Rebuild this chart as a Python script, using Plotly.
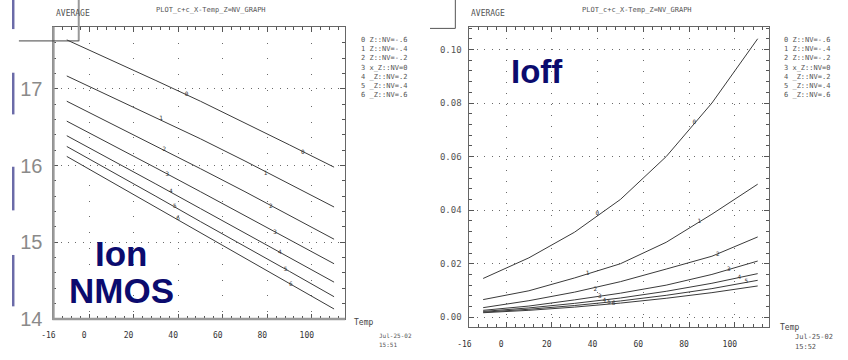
import plotly.graph_objects as go

W, H = 848, 360

# ---------------- data ----------------
temps = [-10, 10, 30, 50, 70, 90, 110]

ion_0 = [17.64, 17.38, 17.11, 16.84, 16.56, 16.27, 15.98]
ion_1 = [17.17, 16.90, 16.63, 16.35, 16.06, 15.76, 15.46]
ion_2 = [16.84, 16.55, 16.26, 15.96, 15.66, 15.35, 15.04]
ion_3 = [16.58, 16.28, 15.97, 15.66, 15.35, 15.04, 14.72]
ion_4 = [16.39, 16.08, 15.76, 15.44, 15.12, 14.80, 14.48]
ion_5 = [16.25, 15.93, 15.60, 15.27, 14.95, 14.62, 14.29]
ion_6 = [16.12, 15.79, 15.46, 15.13, 14.80, 14.46, 14.13]
ion_series = [ion_0, ion_1, ion_2, ion_3, ion_4, ion_5, ion_6]

ion_mk_x = [[43.8, 96.0], [32.3, 79.2], [33.8, 81.6], [35.1, 83.5],
            [36.7, 85.7], [38.5, 88.2], [40.0, 90.6]]
ion_mk_y = [[16.93, 16.17], [16.61, 15.90], [16.21, 15.47], [15.89, 15.13],
            [15.66, 14.87], [15.47, 14.65], [15.31, 14.45]]

ioff_0 = [0.0145, 0.0222, 0.0318, 0.0440, 0.0600, 0.0800, 0.1040]
ioff_1 = [0.0066, 0.0099, 0.0147, 0.0200, 0.0280, 0.0385, 0.0497]
ioff_2 = [0.0036, 0.0062, 0.0094, 0.0133, 0.0180, 0.0228, 0.0300]
ioff_3 = [0.0026, 0.0042, 0.0065, 0.0090, 0.0120, 0.0160, 0.0210]
ioff_4 = [0.0022, 0.0035, 0.0052, 0.0072, 0.0097, 0.0127, 0.0163]
ioff_5 = [0.0019, 0.0030, 0.0044, 0.0061, 0.0082, 0.0107, 0.0138]
ioff_6 = [0.0017, 0.0026, 0.0038, 0.0053, 0.0071, 0.0092, 0.0117]
ioff_series = [ioff_0, ioff_1, ioff_2, ioff_3, ioff_4, ioff_5, ioff_6]

ioff_mk_x = [[39.9, 82.3], [35.6, 84.5], [39.0, 92.6], [41.0, 97.4],
             [43.0, 102.0], [45.0, 105.0], [47.0]]
ioff_mk_y = [[0.0389, 0.0729], [0.0162, 0.0356], [0.0105, 0.0234], [0.0078, 0.0180],
             [0.0063, 0.0150], [0.0057, 0.0133], [0.0051]]

legend_labels = ["0 Z::NV=-.6", "1 Z::NV=-.4", "2 Z::NV=-.2", "3 x_Z::NV=0",
                 "4 _Z::NV=.2", "5 _Z::NV=.4", "6 _Z::NV=.6"]

x_tickvals = [-16, 0, 20, 40, 60, 80, 100]
x_ticktext = ["-16", "0", "20", "40", "60", "80", "100"]
ion_tickvals = [14, 15, 16, 17]
ion_ticktext = ["14", "15", "16", "17"]
ioff_tickvals = [0.0, 0.02, 0.04, 0.06, 0.08, 0.10]
ioff_ticktext = ["0.00", "0.02", "0.04", "0.06", "0.08", "0.10"]

plot_title = "PLOT_c+c_X-Temp_Z=NV_GRAPH"
y_title = "AVERAGE"
x_title = "Temp"
date_text = "Jul-25-02"
time_left = "15:51"
time_right = "15:52"

# ---------------- helpers ----------------
def px(x):
    return x / W

def py(y):
    return 1 - y / H

MONO = "DejaVu Sans Mono"
LINE_C = "#3a3a3a"

fig = go.Figure()

for i, ys in enumerate(ion_series):
    fig.add_trace(go.Scatter(x=temps, y=ys, mode="lines",
                             line=dict(color=LINE_C, width=1),
                             xaxis="x", yaxis="y", showlegend=False, hoverinfo="skip"))
    fig.add_trace(go.Scatter(x=ion_mk_x[i], y=ion_mk_y[i], mode="text",
                             text=[str(i)] * len(ion_mk_x[i]),
                             textfont=dict(family=MONO, size=6, color="#333333"),
                             xaxis="x", yaxis="y", showlegend=False, hoverinfo="skip"))

for i, ys in enumerate(ioff_series):
    fig.add_trace(go.Scatter(x=temps, y=ys, mode="lines",
                             line=dict(color=LINE_C, width=1),
                             xaxis="x2", yaxis="y2", showlegend=False, hoverinfo="skip"))
    fig.add_trace(go.Scatter(x=ioff_mk_x[i], y=ioff_mk_y[i], mode="text",
                             text=[str(i)] * len(ioff_mk_x[i]),
                             textfont=dict(family=MONO, size=6, color="#333333"),
                             xaxis="x2", yaxis="y2", showlegend=False, hoverinfo="skip"))


def xaxis_cfg(domain, anchor, vdash, standoff):
    return dict(domain=domain, anchor=anchor, range=[-16, 115],
                tickmode="array", tickvals=x_tickvals, ticktext=x_ticktext,
                ticks="inside", ticklen=5, tickcolor="#555", tickwidth=1,
                showline=True, linecolor="#666666", linewidth=1, mirror="allticks",
                minor=dict(tickmode="linear", tick0=0, dtick=4, ticks="inside",
                           ticklen=3, tickcolor="#555", showgrid=False),
                showgrid=True, gridcolor="#6a6a6a", gridwidth=1, griddash=vdash,
                zeroline=False, ticklabelshift=-5, ticklabelstandoff=standoff,
                tickfont=dict(family=MONO, size=8, color="#333"))


fig.update_layout(
    width=W, height=H, autosize=False,
    margin=dict(l=0, r=0, t=0, b=0),
    paper_bgcolor="white", plot_bgcolor="white",
    showlegend=False,
    xaxis=xaxis_cfg([px(42), px(338)], "y", "1px,14.8px", 8),
    yaxis=dict(domain=[py(329), py(27.7)], anchor="x", range=[14, 17.81],
               tickmode="array", tickvals=ion_tickvals, ticktext=ion_ticktext,
               ticks="inside", ticklen=5, tickcolor="#555",
               showline=True, linecolor="#666666", linewidth=1, mirror="allticks",
               minor=dict(tickmode="linear", tick0=14, dtick=0.2, ticks="inside",
                          ticklen=3, tickcolor="#555", showgrid=False),
               showgrid=True, gridcolor="#6a6a6a", gridwidth=1, griddash="1px,6.3px",
               zeroline=False, ticklabelstandoff=6,
               tickfont=dict(family="Liberation Sans", size=20, color="#8a8a8a")),
    xaxis2=xaxis_cfg([px(464), px(768)], "y2", "1px,10.04px", 9),
    yaxis2=dict(domain=[py(337.7), py(27.7)], anchor="x2", range=[-0.00377, 0.10844],
                tickmode="array", tickvals=ioff_tickvals, ticktext=ioff_ticktext,
                ticks="inside", ticklen=5, tickcolor="#555",
                showline=True, linecolor="#666666", linewidth=1, mirror="allticks",
                minor=dict(tickmode="linear", tick0=0, dtick=0.004, ticks="inside",
                           ticklen=3, tickcolor="#555", showgrid=False),
                showgrid=True, gridcolor="#6a6a6a", gridwidth=1, griddash="1px,6.5px",
                zeroline=False, ticklabelstandoff=5,
                tickfont=dict(family=MONO, size=9, color="#555")),
)

ann = []

def add_text(x, y, text, size, color="#555", family=MONO, xanchor="left", yanchor="middle"):
    ann.append(dict(x=px(x), y=py(y), xref="paper", yref="paper", text=text,
                    showarrow=False, xanchor=xanchor, yanchor=yanchor,
                    font=dict(family=family, size=size, color=color)))

# titles
add_text(43, 14, y_title, 8, "#555")
add_text(202, 10, plot_title, 7, "#555", xanchor="center")
add_text(464, 14, y_title, 8, "#555")
add_text(634, 10, plot_title, 7, "#555", xanchor="center")

# legends
for k, lab in enumerate(legend_labels):
    yk = 41 + k * 9.55
    add_text(352, yk, lab, 7, "#555")
    add_text(781, yk, lab, 7, "#555")

# axis titles / dates
add_text(345, 333, x_title, 8, "#444")
add_text(777, 338, x_title, 8, "#444")
add_text(370, 346, date_text, 6, "#555")
add_text(370, 355, time_left, 6, "#555")
add_text(792, 348, date_text, 7, "#555")
add_text(792, 358, time_right, 7, "#555")

# big overlay labels
NAVY = "#0b0b6e"
add_text(111, 261, "<b>Ion</b>", 35, NAVY, "Liberation Sans", xanchor="center")
add_text(111, 300, "<b>NMOS</b>", 35, NAVY, "Liberation Sans", xanchor="center")
add_text(533, 74, "<b>Ioff</b>", 33, NAVY, "Liberation Sans", xanchor="center")

fig.update_layout(annotations=ann)

shapes = []

def line(x0, y0, x1, y1, color, width):
    shapes.append(dict(type="line", xref="paper", yref="paper",
                       x0=px(x0), y0=py(y0), x1=px(x1), y1=py(y1),
                       line=dict(color=color, width=width)))

# heavier grey left/bottom frame edges of the left panel
line(42, 27.7, 42, 330, "#9a9a9a", 2.5)
line(41, 329, 338, 329, "#9a9a9a", 2.5)

# callout lines
line(67.7, 0, 67.7, 42.5, "#999999", 2)
line(7, 42.2, 67.7, 42.2, "#444444", 1)
line(449.7, 0, 449.7, 29.3, "#555555", 1)
line(424, 29.3, 449.7, 29.3, "#555555", 1)

# slide-edge bars
for (a, b) in [(0, 30), (75, 118), (172, 217), (263, 316)]:
    shapes.append(dict(type="rect", xref="paper", yref="paper",
                       x0=px(0), x1=px(2.5), y0=py(b), y1=py(a),
                       line=dict(width=0), fillcolor="#6b6ba8"))

fig.update_layout(shapes=shapes)

fig.write_html("out.html")
